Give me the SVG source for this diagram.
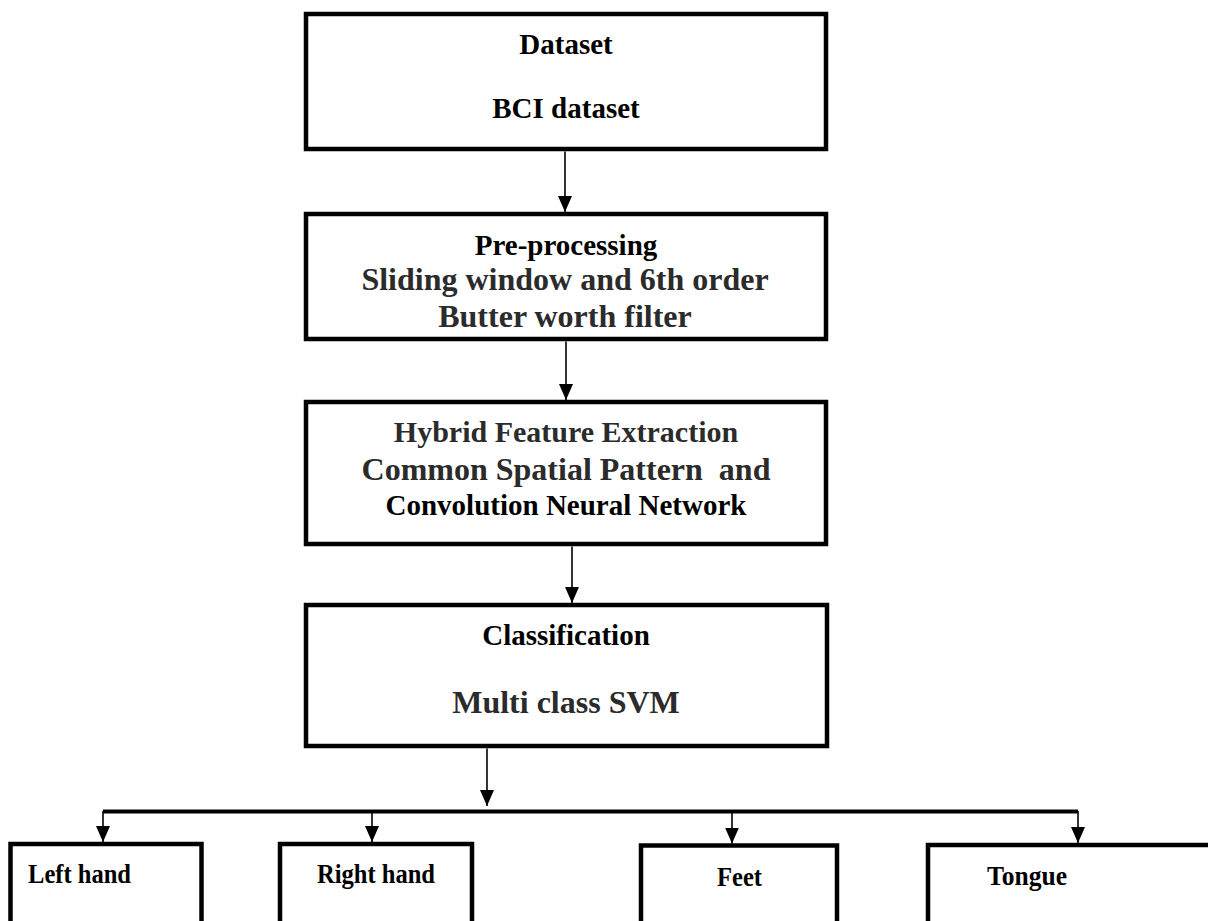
<svg xmlns="http://www.w3.org/2000/svg" width="1208" height="921" viewBox="0 0 1208 921">
<style>
.box{fill:#fff;stroke:#000;stroke-width:4.5}
.t{font-family:"Liberation Serif","Times New Roman",serif;font-weight:bold;fill:#000;font-size:29px;text-anchor:middle}
.g{fill:#2b2b2b;font-size:32px}
.b{font-size:28px;text-anchor:start}
.c{stroke:#000;stroke-width:1.6;fill:none}
.bus{stroke:#000;stroke-width:4;fill:none}
</style>
<defs>
<marker id="ah" markerUnits="userSpaceOnUse" markerWidth="16" markerHeight="14" refX="16" refY="7" orient="auto">
<path d="M0,0 L16,7 L0,14 z" fill="#000"/>
</marker>
</defs>
<rect width="1208" height="921" fill="#fff"/>
<g id="dataset">
<rect class="box" x="306" y="14" width="520" height="135"/>
<text class="t" x="566" y="54">Dataset</text>
<text class="t" x="566" y="118">BCI dataset</text>
</g>
<g id="preprocessing">
<rect class="box" x="306" y="214" width="520" height="125"/>
<text class="t" x="566" y="255">Pre-processing</text>
<text class="t g" x="565" y="290">Sliding window and 6th order</text>
<text class="t g" x="565" y="327">Butter worth filter</text>
</g>
<g id="feature">
<rect class="box" x="306" y="402" width="520" height="142"/>
<text class="t g" x="566" y="442" style="font-size:30px">Hybrid Feature Extraction</text>
<text class="t g" x="566" y="480" xml:space="preserve">Common Spatial Pattern  and</text>
<text class="t" x="566" y="515">Convolution Neural Network</text>
</g>
<g id="classification">
<rect class="box" x="306" y="605" width="521" height="141"/>
<text class="t" x="566" y="645">Classification</text>
<text class="t g" x="566" y="713">Multi class SVM</text>
</g>
<g id="lefthand">
<rect class="box" x="10.5" y="844" width="191" height="100"/>
<text class="t b" x="28" y="883" textLength="103" lengthAdjust="spacingAndGlyphs">Left hand</text>
</g>
<g id="righthand">
<rect class="box" x="280" y="844" width="192" height="100"/>
<text class="t b" x="317" y="883" textLength="118" lengthAdjust="spacingAndGlyphs">Right hand</text>
</g>
<g id="feet">
<rect class="box" x="641" y="845.5" width="196" height="100"/>
<text class="t b" x="717" y="886" textLength="45" lengthAdjust="spacingAndGlyphs">Feet</text>
</g>
<g id="tongue">
<rect class="box" x="928" y="845" width="300" height="100"/>
<text class="t b" x="987" y="885" textLength="80" lengthAdjust="spacingAndGlyphs">Tongue</text>
</g>
<g id="connectors">
<line class="c" x1="565" y1="151.5" x2="565" y2="212" marker-end="url(#ah)"/>
<line class="c" x1="566" y1="341.5" x2="566" y2="400" marker-end="url(#ah)"/>
<line class="c" x1="572" y1="546.5" x2="572" y2="603" marker-end="url(#ah)"/>
<line class="c" x1="487" y1="748.5" x2="487" y2="806" marker-end="url(#ah)"/>
<line class="bus" x1="103" y1="811.5" x2="1078" y2="811.5"/>
<line class="c" x1="103" y1="811" x2="103" y2="842" marker-end="url(#ah)"/>
<line class="c" x1="372" y1="811" x2="372" y2="842" marker-end="url(#ah)"/>
<line class="c" x1="732" y1="811" x2="732" y2="843.5" marker-end="url(#ah)"/>
<line class="c" x1="1078" y1="811" x2="1078" y2="843" marker-end="url(#ah)"/>
</g>
</svg>
